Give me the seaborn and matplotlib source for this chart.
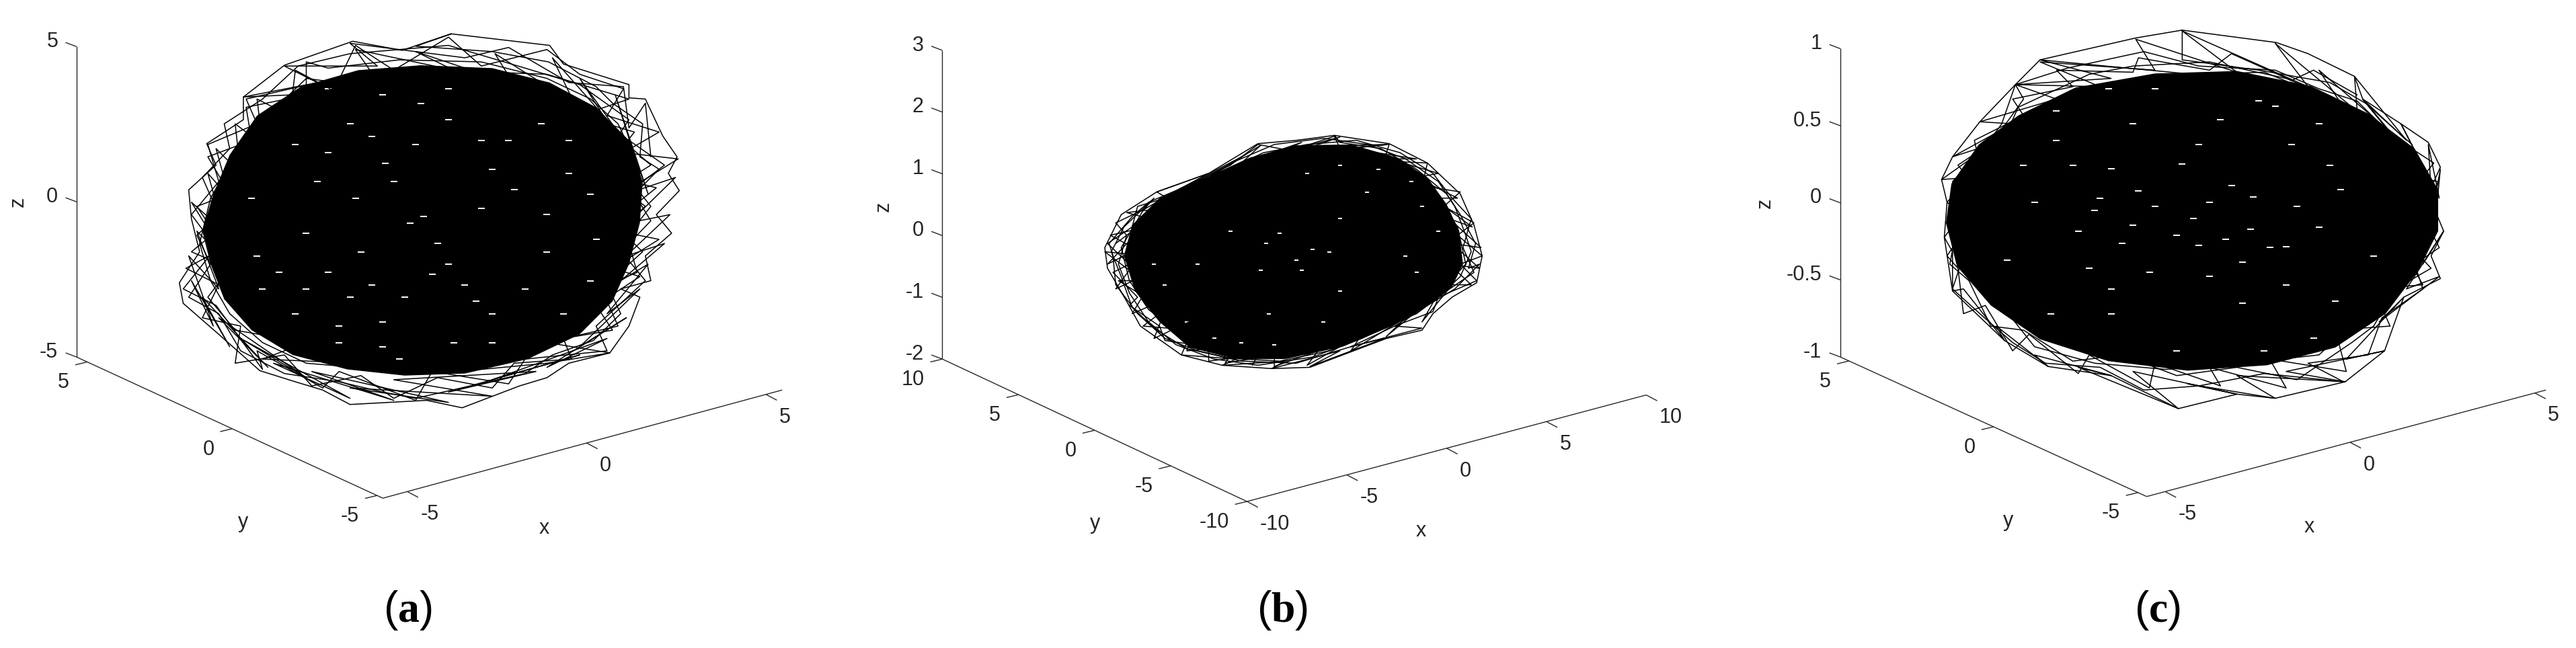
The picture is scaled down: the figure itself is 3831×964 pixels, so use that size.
import numpy as np
import matplotlib
matplotlib.use("Agg")
import matplotlib.pyplot as plt
import seaborn as sns

# ==================================================
# DATA (hand, view plane units,
# each panel is 1570 x 1570 units, v runs downwards)
# ==================================================
a_xlim = (-5.68, 5.45)
a_ylim = (-5.2, 5.37)
a_zlim = (-5, 5)
a_xticks = [-5, 0, 5]
a_yticks = [-5, 0, 5]
a_zticks = [-5, 0, 5]
a_ztick_labels = ["-5", "0", "5"]

b_xlim = (-10, 10)
b_ylim = (-10, 10)
b_zlim = (-2, 3)
b_xticks = [-10, -5, 0, 5, 10]
b_yticks = [-10, -5, 0, 5, 10]
b_zticks = [-2, -1, 0, 1, 2, 3]
b_ztick_labels = ["-2", "-1", "0", "1", "2", "3"]

c_xlim = (-5.5, 5.3)
c_ylim = (-5.3, 5.3)
c_zlim = (-1, 1)
c_xticks = [-5, 0, 5]
c_yticks = [-5, 0, 5]
c_zticks = [-1, -0.5, 0, 0.5, 1]
c_ztick_labels = ["-1", "-0.5", "0", "0.5", "1"]

a_core = [(770,158),(900,165),(1005,200),(1090,260),(1150,340),(1175,440),(1170,540),(1150,640),
          (1120,730),(1060,810),(965,870),(850,905),(740,910),(635,895),(535,860),(460,800),
          (410,725),(385,640),(370,560),(390,470),(420,375),(470,280),(550,210),(655,170)]

a_path = [(825,82),(1005,110),(1030,155),(1150,205),(1150,237),(1180,240),(1212,330),(1238,380),
          (1222,420),(1242,462),(1200,520),(1228,565),(1180,620),(1190,680),(1135,700),(1170,720),
          (1150,790),(1115,855),(1040,880),(1000,915),(950,935),(845,988),(780,970),(640,980),
          (590,945),(540,925),(475,898),(400,810),(335,735),(328,685),(365,610),(350,530),
          (345,460),(395,400),(378,348),(445,290),(445,235),(520,158),(645,100),(735,122),(825,82),
          (760,112),(900,125),(1003,150),(1090,210),(1120,250),(1175,300),(1170,380),(1205,410),
          (1160,470),(1190,535),(1150,590),(1165,660),(1110,690),(1135,760),(1085,825),(1010,860),
          (960,905),(860,935),(760,965),(700,950),(620,925),(520,905),(440,850),(400,760),
          (345,720),(385,640),(360,570),(400,520),(370,430),(420,360),(410,300),(480,240),
          (545,160),(640,130),(820,110),(960,165),(1060,205),(1150,290),(1130,330),(1190,400),
          (1130,450),(1180,500),(1130,560),(1205,580),(1120,650),(1170,670),(1090,740),(1120,800),
          (1030,820),(1045,870),(940,880),(900,940),(800,915),(720,965),(660,910),(570,935),
          (520,860),(430,880),(440,790),(370,770),(400,690),(340,650),(410,600),(360,500),
          (420,470),(380,380),(460,340),(450,260),(560,230),(560,150),(600,165),(730,145),
          (880,150),(1000,190),(1080,240),(1130,300),(1155,370),(1150,470),(1130,560),(1125,650),
          (1090,730),(1040,790),(960,850),(860,880),(750,905),(650,890),(560,880),(480,830),
          (420,760),(385,680),(365,590),(385,480),(420,400),(470,300),(530,230),(445,235),
          (620,190),(800,170),(1000,180),(1150,240),(1060,280),(1160,320),(1100,420),(1200,455),
          (1120,540),(1175,610),(1100,700),(1130,790),(1000,830),(1115,855),(1000,880),(800,905),
          (650,880),(480,870),(560,830),(430,800),(380,720),(420,650),(350,610),(405,550)]

a_ring = [(450,330),(560,190),(700,215),(650,120),(830,170),(760,125),(940,205),(905,130),(1050,250),
          (1010,140),(1130,320),(1060,190),(1170,420),(1125,230),(1185,470),(1150,340),(1215,400),
          (1145,470),(1235,430),(1150,540),(1225,520),(1145,620),(1215,590),(1135,680),(1185,640),
          (1110,760),(1170,700),(1060,840),(1145,770),(1000,890),(1110,820),(900,920),(1060,860),
          (820,950),(980,900),(720,920),(900,960),(640,940),(820,975),(570,900),(720,970),(500,880),
          (640,965),(440,820),(560,915),(400,770),(490,890),(370,720),(420,840),(350,680),(390,790),
          (345,620),(400,700),(360,560),(420,640),(350,490),(410,560),(380,420),(420,480),(395,360),
          (440,420),(430,300),(480,350),(470,240),(530,280),(540,170),(610,220),(650,110),(720,170),
          (820,90),(880,160),(1000,120),(1060,180),(1140,215),(1110,280),(1205,320),(1140,370),
          (1240,385),(1160,450),(1190,500),(1130,600),(1180,680),(1090,790),(1110,850),(960,870),
          (930,930),(790,900),(760,970),(620,900),(590,940),(470,850),(480,895),(395,740),(335,700),
          (395,600),(350,520),(400,440),(380,350),(470,300),(450,240),(580,200),(520,160),(690,160),
          (640,105),(850,140),(930,115),(1040,200),(1140,210),(1150,310),(1180,250),(1190,380)]

a_gaps = [(750,540),(705,395),(775,525),(880,505),(640,720),(790,665),(850,690),(820,640),
          (620,830),(700,780),(770,250),(600,215),(640,300),(820,215),(930,340),(880,340),
          (720,440),(560,565),(660,610),(1080,680),(1000,610),(900,760),(510,660),(470,620),
          (990,300),(700,230),(760,350),(900,410),(940,460),(1040,420),(830,830),(730,870),
          (620,790),(540,760),(460,480),(580,440),(650,480),(800,590),(960,700),(1030,760),
          (680,690),(740,720),(560,700),(600,660),(870,730),(1000,520),(1080,470),(820,290),
          (540,350),(600,370),(680,330),(1040,340),(1090,580),(480,700),(700,840),(900,830)]

b_core = [(800,352),(900,350),(985,382),(1040,430),(1075,495),(1098,560),(1105,640),(1085,695),
          (1040,740),(975,790),(885,840),(780,870),(690,870),(605,842),(550,780),(505,705),
          (485,620),(500,545),(550,480),(635,430),(715,382)]

b_path = [(870,328),(970,348),(1040,395),(1100,470),(1125,545),(1140,620),(1130,685),(1085,720),
          (1050,760),(1030,800),(965,820),(825,890),(755,893),(665,885),(590,860),(515,790),
          (490,730),(455,650),(450,600),(480,520),(545,465),(640,420),(730,348),(800,340),(870,328),
          (880,345),(955,360),(1020,410),(1075,470),(1100,520),(1128,590),(1115,650),(1135,640),
          (1090,700),(1040,740),(980,790),(900,840),(800,880),(700,875),(620,850),(560,820),
          (510,760),(470,690),(465,620),(458,590),(500,525),(530,490),(610,445),(690,390),
          (760,350),(850,335),(930,350),(1000,385),(1060,440),(1090,500),(1110,570),(1120,610),
          (1100,670),(1060,720),(1000,770),(920,820),(830,865),(730,885),(650,870),(580,835),
          (530,780),(495,710),(475,640),(490,570),(470,540),(525,505),(590,455),(660,420),
          (740,370),(820,350),(910,340),(990,370),(1050,420),(1085,480),(1120,530),(1105,600),
          (1125,660),(1075,705),(1020,760),(950,800),(860,850),(770,875),(680,868),(600,845),
          (545,800),(500,745),(480,670),(462,610),(485,550),(540,480),(520,510),(480,600),
          (495,680),(530,750),(590,810),(680,850),(780,865),(880,835),(980,780),(1060,710),
          (1110,640),(1095,550),(1055,470),(990,400),(900,355),(800,360),(710,395),(620,440)]

b_ring = [(470,590),(540,520),(455,640),(530,590),(470,700),(550,650),(500,760),(570,720),(540,820),
          (620,770),(600,850),(690,840),(670,880),(760,860),(760,888),(840,850),(820,885),(920,810),
          (900,850),(1000,770),(965,815),(1060,710),(1030,780),(1085,690),(1120,690),(1080,640),
          (1135,650),(1085,590),(1138,600),(1080,530),(1122,550),(1050,480),(1095,480),(1020,430),
          (1060,420),(970,385),(1020,385),(900,360),(965,350),(830,355),(880,332),(760,375),(810,345),
          (700,395),(735,352),(640,430),(700,380),(570,470),(640,420),(545,465),(590,500),(490,515),
          (560,540),(460,570),(530,620),(450,610),(520,680),(475,680),(560,750),(520,790),(610,800),
          (590,860),(690,870),(665,885),(780,875),(755,893),(880,850),(825,888),(965,818),(900,840),
          (1030,795),(980,790),(1050,755),(1060,720),(1130,680),(1100,640),(1140,620),(1095,570),
          (1125,540),(1070,500),(1100,465),(1030,450),(1040,395),(960,390),(970,350),(880,360),(870,330),
          (790,365),(730,350),(680,400),(610,445),(560,480),(510,500),(500,550),(455,590),(495,640),
          (465,660),(510,720),(495,740),(550,790),(560,825),(640,840),(640,875),(730,860),(720,885)]

b_gaps = [(800,630),(745,590),(830,605),(770,565),(860,610),(735,655),(810,655),(880,705),
          (930,465),(1010,440),(1030,500),(1060,560),(600,780),(650,820),(700,830),(760,835),
          (560,690),(540,640),(880,400),(820,420),(950,410),(1000,620),(1020,660),(680,560),
          (880,530),(620,640),(750,760),(850,780)]

c_core = [(800,178),(950,172),(1085,208),(1190,275),(1275,360),(1318,460),(1318,560),(1282,655),
          (1222,760),(1130,842),(1005,885),(860,898),(715,875),(590,822),(500,740),(438,645),
          (418,540),(428,445),(478,350),(550,280),(655,212)]

c_path = [(850,73),(1022,103),(1080,130),(1165,185),(1180,240),(1250,300),(1300,345),(1322,405),
          (1300,470),(1328,560),(1305,620),(1322,675),(1255,720),(1220,850),(1148,925),(1020,965),
          (950,955),(843,990),(720,910),(605,888),(525,825),(430,705),(415,575),(420,490),
          (410,435),(430,380),(480,295),(545,205),(590,145),(765,92),(850,73),(850,145),(990,170),
          (1120,200),(1185,250),(1270,350),(1280,430),(1318,440),(1290,520),(1320,600),(1275,640),
          (1290,700),(1215,770),(1190,860),(1080,880),(1145,925),(1000,905),(880,935),(780,945),
          (700,890),(600,880),(540,830),(480,760),(430,700),(450,620),(420,540),(455,480),
          (430,440),(490,355),(520,300),(545,205),(640,165),(780,125),(880,160),(1020,170),
          (1100,215),(1170,245),(1235,330),(1310,395),(1265,470),(1310,510),(1270,600),(1305,650),
          (1240,700),(1200,790),(1160,830),(1060,920),(950,890),(840,910),(740,860),(650,875),
          (560,800),(500,790),(460,680),(425,640),(440,540),(470,450),(440,400),(530,320),
          (550,260),(680,180),(760,160),(900,150),(1040,190),(1130,240),(1210,300),(1250,370),
          (1300,430),(1270,560),(1250,680),(1180,760),(1100,860),(960,880),(820,895),(690,880),
          (580,840),(520,740),(470,620),(450,520),(500,400),(590,270),(700,210),(850,180)]

c_ring = [(430,480),(560,240),(545,205),(700,210),(590,150),(800,170),(765,95),(950,175),(850,75),
          (1080,210),(1020,105),(1170,270),(1165,185),(1260,340),(1180,240),(1300,430),(1250,300),
          (1320,480),(1300,350),(1310,570),(1322,410),(1290,640),(1328,560),(1260,700),(1320,670),
          (1210,780),(1255,720),(1150,870),(1220,850),(1040,900),(1148,925),(950,910),(1020,965),
          (860,930),(950,955),(760,900),(843,990),(660,890),(720,910),(580,860),(605,888),(510,790),
          (525,825),(450,700),(430,705),(430,610),(415,575),(445,520),(420,490),(460,430),(410,435),
          (500,350),(430,380),(540,300),(480,295),(620,240),(545,205),(720,190),(590,145),(870,180),
          (1000,175),(1140,250),(1100,170),(1230,320),(1180,240),(1290,420),(1240,400),(1310,520),
          (1260,620),(1290,690),(1200,700),(1230,790),(1130,800),(1150,900),(1010,870),(1040,940),
          (900,890),(920,935),(800,880),(790,940),(680,860),(660,905),(570,810),(540,850),(490,740),
          (450,760),(440,650),(420,620),(470,520),(430,470),(480,400),(470,340),(560,280),(540,240),
          (650,210),(620,170),(760,175),(770,140),(900,170),(940,130),(1050,195),(1090,170),(1170,230)]

c_gaps = [(770,462),(720,408),(850,398),(690,510),(760,545),(975,555),(880,595),(930,580),
          (1010,600),(1040,598),(620,268),(715,215),(800,215),(990,245),(1020,258),(790,660),
          (960,635),(900,490),(980,478),(940,450),(700,480),(660,560),(840,570),(1100,550),
          (610,760),(720,760),(960,735),(1130,730),(1000,850),(1090,820),(840,850),(720,700),
          (530,630),(1140,460),(1050,350),(880,350),(1100,300),(650,400),(580,490),(1200,620),
          (800,500),(870,530),(740,590),(1060,500),(1120,400),(900,670),(1040,690),(680,650),
          (760,300),(920,290),(620,340),(560,400)]


def to_array(points):
    return np.array(points, dtype=float)


# ==================================================
# PANEL SETUP
# ==================================================
panels = [
    dict(tag="a", origin=(700, 1207), ex=(730, -262), ey=(-560, -342), ez=(0, -752),
         xlim=a_xlim, ylim=a_ylim, zlim=a_zlim, xticks=a_xticks, yticks=a_yticks,
         zticks=a_zticks, zlabels=a_ztick_labels, core=a_core, paths=[a_path, a_ring],
         gaps=a_gaps, gap_size=60, xlab=(995, 1280), ylab=(445, 1265), zlab=(33, 490), tag_x=745),
    dict(tag="b", origin=(710, 1215), ex=(730, -258), ey=(-557, -345), ez=(0, -748),
         xlim=b_xlim, ylim=b_ylim, zlim=b_zlim, xticks=b_xticks, yticks=b_yticks,
         zticks=b_zticks, zlabels=b_ztick_labels, core=b_core, paths=[b_path, b_ring],
         gaps=b_gaps, gap_size=25, xlab=(1028, 1287), ylab=(432, 1268), zlab=(45, 500), tag_x=775),
    dict(tag="c", origin=(785, 1203), ex=(730, -258), ey=(-560, -338), ez=(0, -747),
         xlim=c_xlim, ylim=c_ylim, zlim=c_zlim, xticks=c_xticks, yticks=c_yticks,
         zticks=c_zticks, zlabels=c_ztick_labels, core=c_core, paths=[c_path, c_ring],
         gaps=c_gaps, gap_size=60, xlab=(1082, 1277), ylab=(532, 1262), zlab=(87, 492), tag_x=805),
]

sns.set_style("white")
plt.rcParams["font.family"] = ["Liberation Sans", "DejaVu Sans"]
plt.rcParams["mathtext.fontset"] = "custom"
plt.rcParams["mathtext.rm"] = "Liberation Serif"
plt.rcParams["mathtext.bf"] = "Liberation Serif:bold"

AXIS_COLOR = "#262626"
TICK_SIZE = 22

fig = plt.figure(figsize=(38.31, 9.64), dpi=100)


def axis_point(p, x, y, z):
    fx = (x - p["xlim"][0]) / (p["xlim"][1] - p["xlim"][0])
    fy = (y - p["ylim"][0]) / (p["ylim"][1] - p["ylim"][0])
    fz = (z - p["zlim"][0]) / (p["zlim"][1] - p["zlim"][0])
    h = p["origin"][0] + fx * p["ex"][0] + fy * p["ey"][0] + fz * p["ez"][0]
    v = p["origin"][1] + fx * p["ex"][1] + fy * p["ey"][1] + fz * p["ez"][1]
    return h, v


def draw_segment(ax, start, end):
    ax.plot([start[0], end[0]], [start[1], end[1]], color=AXIS_COLOR, lw=1.0,
            solid_capstyle="butt", zorder=1)


for i, p in enumerate(panels):
    ax = fig.add_axes([i / 3, 0, 1 / 3, 1])

    x0, x1 = p["xlim"]
    y0, y1 = p["ylim"]
    z0, z1 = p["zlim"]

    # axis lines
    draw_segment(ax, axis_point(p, x0, y0, z0), axis_point(p, x1, y0, z0))
    draw_segment(ax, axis_point(p, x0, y0, z0), axis_point(p, x0, y1, z0))
    draw_segment(ax, axis_point(p, x0, y1, z0), axis_point(p, x0, y1, z1))

    # ticks and tick labels
    for t in p["xticks"]:
        h, v = axis_point(p, t, y0, z0)
        draw_segment(ax, (h, v), (h + 20, v + 14))
        ax.text(h + 24, v + 55, str(t), fontsize=TICK_SIZE, color=AXIS_COLOR,
                ha="left", va="center")
    for t in p["yticks"]:
        h, v = axis_point(p, x0, t, z0)
        draw_segment(ax, (h, v), (h - 22, v + 7))
        ax.text(h - 33, v + 50, str(t), fontsize=TICK_SIZE, color=AXIS_COLOR,
                ha="right", va="center")
    for t, lab in zip(p["zticks"], p["zlabels"]):
        h, v = axis_point(p, x0, y1, t)
        draw_segment(ax, (h, v), (h - 20, v - 10))
        ax.text(h - 34, v - 12, lab, fontsize=TICK_SIZE, color=AXIS_COLOR,
                ha="right", va="center")

    ax.text(*p["xlab"], "x", fontsize=TICK_SIZE, color=AXIS_COLOR, ha="center", va="center")
    ax.text(*p["ylab"], "y", fontsize=TICK_SIZE, color=AXIS_COLOR, ha="center", va="center")
    ax.text(*p["zlab"], "z", fontsize=TICK_SIZE, color=AXIS_COLOR, ha="center", va="center",
            rotation=90)

    # saturated centre of the trajectory, its small gaps, then the readable outer part
    core = to_array(p["core"])
    ax.fill(core[:, 0], core[:, 1], color="black", lw=0, zorder=2)

    gaps = to_array(p["gaps"])
    ax.scatter(gaps[:, 0], gaps[:, 1], marker="_", s=p["gap_size"], c="white",
               linewidths=1.4, zorder=3)

    for points in p["paths"]:
        path = to_array(points)
        sns.lineplot(x=path[:, 0], y=path[:, 1], sort=False, estimator=None, color="black",
                     lw=1.1, ax=ax, legend=False, zorder=4)

    ax.text(p["tag_x"], 1478, r"($\mathbf{" + p["tag"] + r"}$)", fontsize=46,
            color="black", ha="center", va="center", math_fontfamily="custom")

    ax.set_xlim(0, 1570)
    ax.set_ylim(1570, 0)
    ax.axis("off")

plt.savefig("out.png", dpi=100)
plt.close()
